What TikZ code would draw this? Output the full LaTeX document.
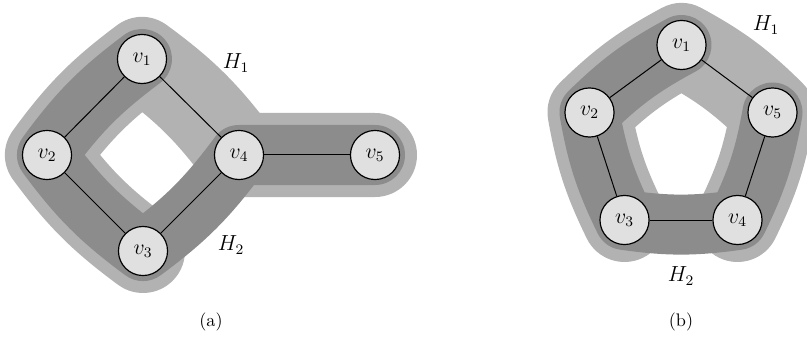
\documentclass[tikz,border=0pt]{standalone}
\usetikzlibrary{calc}
\definecolor{hlight}{gray}{0.70}
\definecolor{hdark}{gray}{0.55}
\definecolor{nfill}{gray}{0.88}
\begin{document}
\begin{tikzpicture}[x=0.55pt,y=-0.55pt,
  vtx/.style={circle,draw=black,fill=nfill,line width=0.65pt,minimum size=27pt,inner sep=0pt,font=\large},
  edgeline/.style={draw=black,line width=0.55pt},
  bandlight/.style={draw=hlight,line width=46.2pt,line cap=round,line join=round},
  banddark/.style={draw=hdark,line width=33pt,line cap=round,line join=round},
  lbl/.style={inner sep=0pt,font=\large},
  captext/.style={inner sep=0pt}]
\useasboundingbox (0,0) rectangle (807,340);
% ---------- (a) ----------
\coordinate (a1) at (142,59);
\coordinate (a2) at (47,155);
\coordinate (a3) at (143,251);
\coordinate (a4) at (239,155);
\coordinate (a5) at (375,155);
\draw[bandlight] (a5) -- (a4) to[bend right=8.5] (a1) to[bend right=8.5] (a2) to[bend right=8.5] (a3);
\draw[banddark] (a1) to[bend right=8.5] (a2) to[bend right=8.5] (a3) to[bend right=8.5] (a4) -- (a5);
\node[vtx] (av1) at (a1) {$v_1$};
\node[vtx] (av2) at (a2) {$v_2$};
\node[vtx] (av3) at (a3) {$v_3$};
\node[vtx] (av4) at (a4) {$v_4$};
\node[vtx] (av5) at (a5) {$v_5$};
\draw[edgeline] (av1) -- (av2);
\draw[edgeline] (av2) -- (av3);
\draw[edgeline] (av3) -- (av4);
\draw[edgeline] (av1) -- (av4);
\draw[edgeline] (av4) -- (av5);
\node[lbl] (aH1) at (236,63) {$H_1$};
\node[lbl] (aH2) at (231,245) {$H_2$};
\node[captext] (acap) at (211,322) {(a)};
% ---------- (b) ----------
\coordinate (b1) at (681.5,45);
\coordinate (b2) at (589.5,112.5);
\coordinate (b3) at (624.5,220);
\coordinate (b4) at (737.5,220);
\coordinate (b5) at (772.5,112.5);
\draw[bandlight] (b3) to[bend left=8] (b2) to[bend left=8] (b1) to[bend left=8] (b5) to[bend left=8] (b4);
\draw[banddark] (b1) to[bend right=8] (b2) to[bend right=8] (b3) to[bend right=8] (b4) to[bend right=8] (b5);
\node[vtx] (bv1) at (b1) {$v_1$};
\node[vtx] (bv2) at (b2) {$v_2$};
\node[vtx] (bv3) at (b3) {$v_3$};
\node[vtx] (bv4) at (b4) {$v_4$};
\node[vtx] (bv5) at (b5) {$v_5$};
\draw[edgeline] (bv1) -- (bv2);
\draw[edgeline] (bv2) -- (bv3);
\draw[edgeline] (bv3) -- (bv4);
\draw[edgeline] (bv4) -- (bv5);
\draw[edgeline] (bv5) -- (bv1);
\node[lbl] (bH1) at (766,25) {$H_1$};
\node[lbl] (bH2) at (681,276) {$H_2$};
\node[captext] (bcap) at (681,322) {(b)};
\end{tikzpicture}
\end{document}
